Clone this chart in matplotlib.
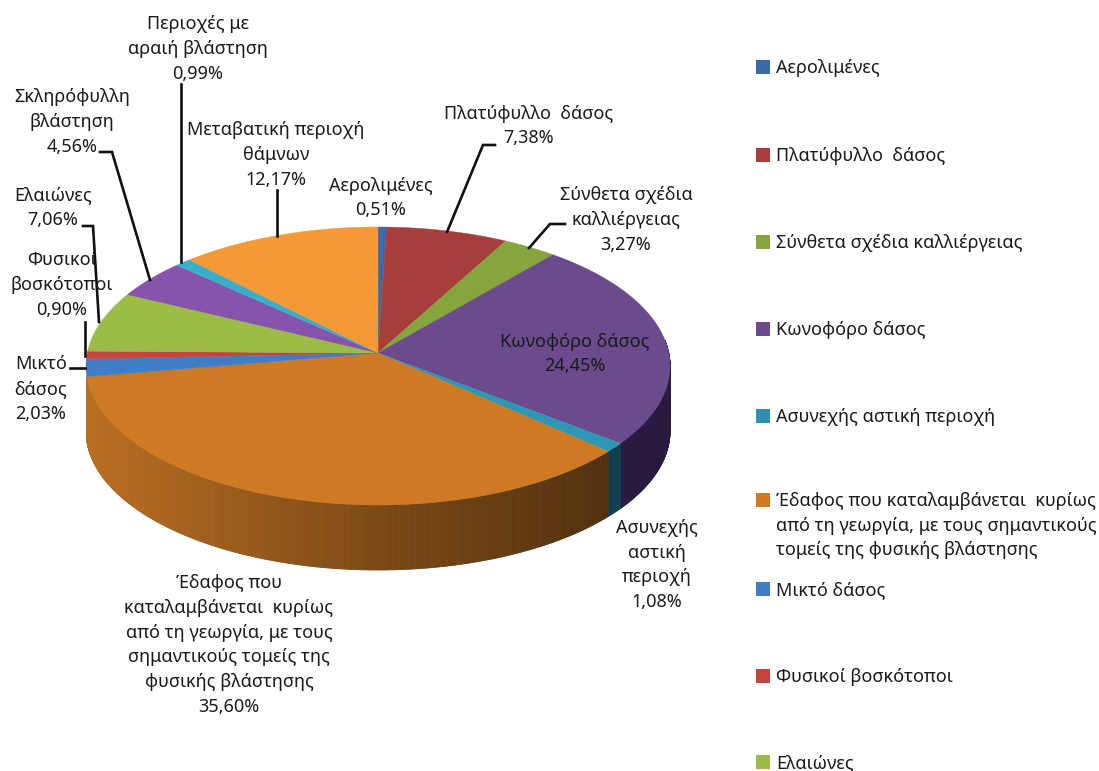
import numpy as np
import matplotlib
matplotlib.use("Agg")
import matplotlib.pyplot as plt
from matplotlib.colors import to_rgb

plt.rcParams['font.family'] = ['Noto Sans', 'DejaVu Sans']

categories = ["Αερολιμένες", "Πλατύφυλλο  δάσος", "Σύνθετα σχέδια καλλιέργειας", "Κωνοφόρο δάσος",
              "Ασυνεχής αστική περιοχή",
              "Έδαφος που καταλαμβάνεται  κυρίως\nαπό τη γεωργία, με τους σημαντικούς\nτομείς της φυσικής βλάστησης",
              "Μικτό δάσος", "Φυσικοί βοσκότοποι", "Ελαιώνες"]
values = [0.51, 7.38, 3.27, 24.45, 1.08, 35.60, 2.03, 0.90, 7.06, 4.56, 0.99, 12.17]
top_colors = ["#3A6BA8", "#A63F3C", "#86A53C", "#6B4A8E", "#2F96B6", "#CE7A24",
              "#3F7DC6", "#C6443F", "#9CBB47", "#8654AC", "#38AECB", "#F59836"]
legend_colors = ["#3A6BA8", "#A63F3C", "#86A53C", "#6B4A8E", "#2F8FB0", "#CE7A24",
                 "#3F7DC6", "#C6443F", "#9CBB47"]

labels = [
    ("Περιοχές με\nαραιή βλάστηση\n0,99%", 198, 49),
    ("Σκληρόφυλλη\nβλάστηση\n4,56%", 72, 122),
    ("Μεταβατική περιοχή\nθάμνων\n12,17%", 276, 155),
    ("Αερολιμένες\n0,51%", 381, 198),
    ("Πλατύφυλλο  δάσος\n7,38%", 529, 126),
    ("Σύνθετα σχέδια\nκαλλιέργειας\n3,27%", 626, 220),
    ("Κωνοφόρο δάσος\n24,45%", 575, 354),
    ("Ασυνεχής\nαστική\nπεριοχή\n1,08%", 657, 565),
    ("Έδαφος που\nκαταλαμβάνεται  κυρίως\nαπό τη γεωργία, με τους\nσημαντικούς τομείς της\nφυσικής βλάστησης\n35,60%", 229, 645),
    ("Ελαιώνες\n7,06%", 53, 208),
    ("Φυσικοί\nβοσκότοποι\n0,90%", 62, 285),
    ("Μικτό\nδάσος\n2,03%", 41, 389),
]
leaders = [
    ([181, 181], [84, 262]),
    ([100, 112, 150], [152, 152, 280]),
    ([277, 277], [190, 236]),
    ([495, 483, 447], [145, 145, 232]),
    ([565, 550, 529], [224, 224, 248]),
    ([83, 93, 99], [226, 226, 322]),
    ([85, 85], [322, 356]),
    ([70, 85], [368, 368]),
]
legend_y = [67, 155, 242, 329, 416, 500, 589, 676, 762]

CX, CY, RX, RY, DEPTH, A = 378, 366, 292, 139, 65, 0.0935


def project(theta):
    u, v = np.sin(theta), np.cos(theta)
    d = 1 + A * v
    return CX + RX * u * np.sqrt(1 - A * A) / d, CY - RY * (v + A) / d


fig = plt.figure(figsize=(10.99, 7.71), dpi=100)
ax = fig.add_axes([0, 0, 1, 1])
ax.set_xlim(0, 1099)
ax.set_ylim(771, 0)
ax.axis('off')

edges = np.concatenate([[0], np.cumsum(values)]) / sum(values) * 2 * np.pi
shade_stops = [85, 378, 610, 670]
shade_vals = [0.90, 0.60, 0.39, 0.38]
wall_colors = {3: (0.17, 0.10, 0.25), 4: (0.05, 0.24, 0.31)}

# front wall: only the slices that face the viewer, from the rightmost point on
for i in (3, 4, 5):
    t = np.linspace(max(edges[i], np.pi * 0.47), edges[i + 1],
                    max(3, int((edges[i + 1] - edges[i]) * 150)))
    x, y = project(t)
    for j in range(len(t) - 1):
        f = np.interp((x[j] + x[j + 1]) / 2, shade_stops, shade_vals)
        c = wall_colors.get(i, tuple(f * k for k in to_rgb(top_colors[i])))
        ax.fill([x[j], x[j + 1], x[j + 1], x[j]],
                [y[j], y[j + 1], y[j + 1] + DEPTH, y[j] + DEPTH],
                color=c, lw=0.6, zorder=2)

# top face
for i, col in enumerate(top_colors):
    t = np.linspace(edges[i], edges[i + 1], max(3, int((edges[i + 1] - edges[i]) * 100)))
    x, y = project(t)
    ax.fill(np.r_[CX, x], np.r_[CY - RY * A, y], color=col, lw=0.3, zorder=3)

for xs, ys in leaders:
    ax.plot(xs, ys, color="#111111", lw=1.9, zorder=4, solid_joinstyle='miter')

for txt, x, y in labels:
    ax.text(x, y, txt, ha='center', va='center', fontsize=13, color="#1a1a1a",
            linespacing=1.48, zorder=5)

for name, col, y in zip(categories, legend_colors, legend_y):
    ax.scatter([763], [y], marker='s', s=105, color=col, zorder=5, linewidths=0)
    ax.text(776, y - 8, name, ha='left', va='top', fontsize=13, color="#1a1a1a", linespacing=1.48)

fig.savefig("out.png", dpi=100, facecolor="white")
